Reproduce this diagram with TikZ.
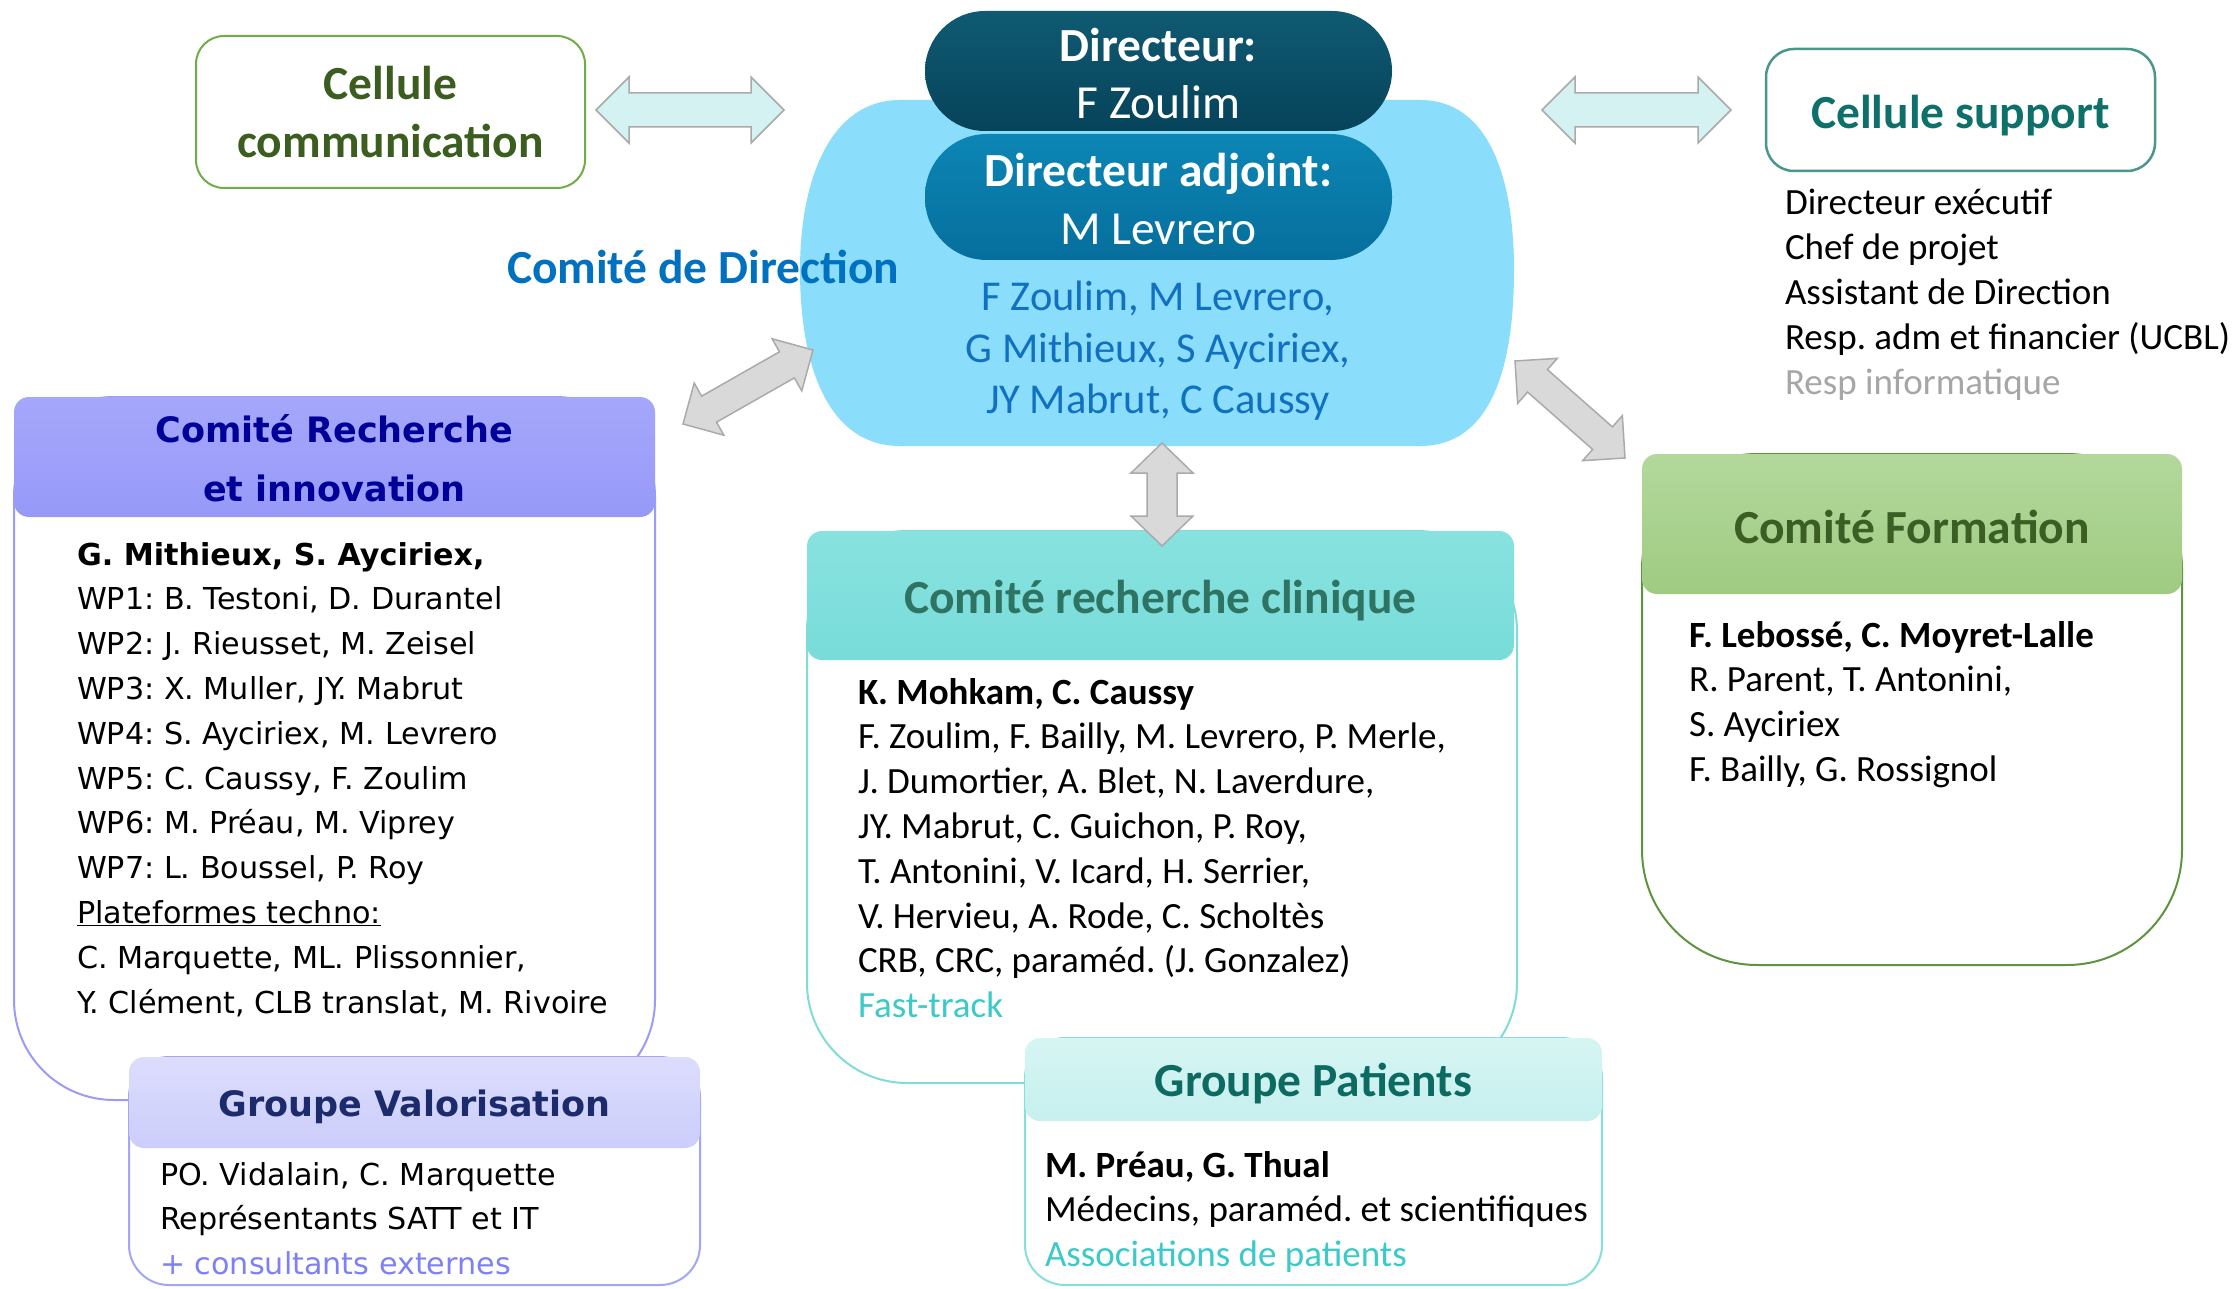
\documentclass[tikz,border=0pt]{standalone}
\usepackage{fontspec}
\setmainfont{Carlito}
\newfontfamily\verd{DejaVu Sans}
\usetikzlibrary{calc}
\definecolor{commgreen}{HTML}{70AD47}
\definecolor{commtext}{HTML}{3B5E20}
\definecolor{supteal}{HTML}{4A968D}
\definecolor{suptext}{HTML}{0E706A}
\definecolor{respgray}{HTML}{A6A6A6}
\definecolor{cylblue}{HTML}{8ADEFB}
\definecolor{dirtop}{HTML}{0F5A72}
\definecolor{dirbot}{HTML}{06435A}
\definecolor{adjtop}{HTML}{0C86B5}
\definecolor{adjbot}{HTML}{066E9C}
\definecolor{cyltext}{HTML}{1170C0}
\definecolor{cdblue}{HTML}{0070C0}
\definecolor{rechtop}{HTML}{A5A7FB}
\definecolor{rechbot}{HTML}{9799F8}
\definecolor{rechtext}{HTML}{000099}
\definecolor{rechborder}{HTML}{9A9CF8}
\definecolor{valtop}{HTML}{DCDDFD}
\definecolor{valbot}{HTML}{CCCDFA}
\definecolor{valtext}{HTML}{1C2B6B}
\definecolor{valborder}{HTML}{A3A5F7}
\definecolor{valplus}{HTML}{7E80F5}
\definecolor{clintop}{HTML}{88E2DF}
\definecolor{clinbot}{HTML}{78DCD9}
\definecolor{clintext}{HTML}{2F7363}
\definecolor{clinborder}{HTML}{7FDCD9}
\definecolor{fasttrack}{HTML}{3CC9C9}
\definecolor{pattop}{HTML}{D6F5F3}
\definecolor{patbot}{HTML}{C6F0EE}
\definecolor{pattext}{HTML}{0D6A62}
\definecolor{patborder}{HTML}{86DFDB}
\definecolor{formtop}{HTML}{B4D89C}
\definecolor{formbot}{HTML}{9FCB82}
\definecolor{formtext}{HTML}{3A5E24}
\definecolor{formborder}{HTML}{5E9340}
\definecolor{grayfill}{HTML}{D9D9D9}
\definecolor{grayline}{HTML}{AAAAAA}
\definecolor{lightfill}{HTML}{D3F2F1}
\newcommand{\Hfont}{\fontsize{47.5}{58}\selectfont\bfseries}
\newcommand{\Bfont}{\fontsize{37}{44.8}\selectfont}
\newcommand{\VHfont}{\verd\fontsize{35}{58.5}\selectfont\bfseries}
\newcommand{\VBfont}{\verd\fontsize{30.2}{44.8}\selectfont}
\newcommand{\dblarrow}[6]{%
  \coordinate (h1) at ($(#1)!#5!(#2)$);
  \coordinate (h2) at ($(#2)!#5!(#1)$);
  \draw[#6] (#1) -- ($(h1)!#3!90:(#2)$) -- ($(h1)!#4!90:(#2)$)
    -- ($(h2)!#4!-90:(#1)$) -- ($(h2)!#3!-90:(#1)$) -- (#2)
    -- ($(h2)!#3!90:(#1)$) -- ($(h2)!#4!90:(#1)$)
    -- ($(h1)!#4!-90:(#2)$) -- ($(h1)!#3!-90:(#2)$) -- cycle;
}
\frenchspacing
\begin{document}
\begin{tikzpicture}[x=1pt,y=-1pt,
  every node/.style={inner sep=0pt,outer sep=0pt},
  bodybox/.style={fill=white,line width=2pt},
  headbox/.style={rounded corners=15pt},
  txt/.style={anchor=base west},
  lightarrow/.style={fill=lightfill,draw=grayline,line width=1.5pt,line join=miter},
  grayarrow/.style={fill=grayfill,draw=grayline,line width=1.5pt,line join=miter}]
\useasboundingbox[fill=white] (0,0) rectangle (2239,1289);

% ---- Cellule communication
\node[draw=commgreen,line width=2pt,rounded corners=28pt,minimum width=389pt,minimum height=152pt,
  align=center,font=\Hfont,text=commtext] (comm) at (390.5,112) {Cellule\\communication};

% ---- Cellule support
\node[draw=supteal,line width=2.5pt,rounded corners=28pt,minimum width=389pt,minimum height=122pt] (support) at (1960.5,110) {};
\node[font=\Hfont,text=suptext] (suptitle) at (1960.5,116) {Cellule support};
\node[txt,font=\Bfont] (suplist) at (1785,215) {\begin{tabular}[t]{@{}l@{}}Directeur exécutif\\Chef de projet\\Assistant de Direction\\Resp. adm et financier (UCBL)\\\textcolor{respgray}{Resp informatique}\end{tabular}};

% ---- Comite de direction (cylinder)
\path[fill=cylblue] (900,100) -- (1420,100) .. controls (1490,100) and (1514,180) .. (1514,270)
  .. controls (1514,370) and (1490,446) .. (1420,446) -- (900,446)
  .. controls (830,446) and (800,370) .. (800,270) .. controls (800,180) and (830,100) .. (900,100) -- cycle;
\coordinate (codir) at (1157,273);
\node[top color=dirtop,bottom color=dirbot,rounded corners=60pt,minimum width=467pt,minimum height=120pt] (dir) at (1158.5,71) {};
\node[align=center,text=white,font=\fontsize{47.5}{57}\selectfont] (dirtxt) at (1158.5,74) {\textbf{Directeur:}\\F Zoulim};
\node[top color=adjtop,bottom color=adjbot,rounded corners=62pt,minimum width=467pt,minimum height=126pt] (adj) at (1158.5,197) {};
\node[align=center,text=white,font=\fontsize{47.5}{58}\selectfont] (adjtxt) at (1158.5,199) {\textbf{Directeur adjoint:}\\M Levrero};
\node[align=center,text=cyltext,font=\fontsize{42.5}{51.4}\selectfont] (cdmembers) at (1158,351)
  {F Zoulim, M Levrero,\\G Mithieux, S Ayciriex,\\JY Mabrut, C Caussy};
\node[anchor=west,font=\Hfont,text=cdblue] (cdlabel) at (507,267) {Comité de Direction};

% ---- Comite Recherche et innovation
\node[bodybox,draw=rechborder,rounded corners=100pt,minimum width=641pt,minimum height=703pt] (rechbody) at (334.5,748.5) {};
\node[headbox,top color=rechtop,bottom color=rechbot,minimum width=641pt,minimum height=120pt] (rechhead) at (334.5,457) {};
\node[align=center,font=\VHfont,text=rechtext] (rechtitle) at (334.5,458) {Comité Recherche\\et innovation};
\node[txt,font=\VBfont] (rechtxt) at (77,565) {\begin{tabular}[t]{@{}l@{}}\textbf{G. Mithieux, S. Ayciriex,}\\
WP1: B. Testoni, D. Durantel\\
WP2: J. Rieusset, M. Zeisel\\
WP3: X. Muller, JY. Mabrut\\
WP4: S. Ayciriex, M. Levrero\\
WP5: C. Caussy, F. Zoulim\\
WP6: M. Préau, M. Viprey\\
WP7: L. Boussel, P. Roy\\
\underline{Plateformes techno:}\\
C. Marquette, ML. Plissonnier,\\
Y. Clément, CLB translat, M. Rivoire\end{tabular}};

% ---- Groupe Valorisation
\node[bodybox,draw=valborder,rounded corners=40pt,minimum width=571pt,minimum height=228pt] (valbody) at (414.5,1171) {};
\node[headbox,top color=valtop,bottom color=valbot,minimum width=571pt,minimum height=91pt] (valhead) at (414.5,1102.5) {};
\node[font=\VHfont,text=valtext] (valtitle) at (414.5,1107) {Groupe Valorisation};
\node[txt,font=\VBfont] (valtxt) at (160,1185) {\begin{tabular}[t]{@{}l@{}}PO. Vidalain, C. Marquette\\
Représentants SATT et IT\\
\textcolor{valplus}{+ consultants externes}\end{tabular}};

% ---- Comite recherche clinique
\node[bodybox,draw=clinborder,rounded corners=100pt,minimum width=710pt,minimum height=552pt] (clinbody) at (1162,807) {};
\node[headbox,top color=clintop,bottom color=clinbot,minimum width=707pt,minimum height=129pt] (clinhead) at (1160.5,595.5) {};
\node[font=\Hfont,text=clintext] (clintitle) at (1160.5,601) {Comité recherche clinique};
\node[txt,font=\Bfont] (clintxt) at (858,704) {\begin{tabular}[t]{@{}l@{}}\textbf{K. Mohkam, C. Caussy}\\
F. Zoulim, F. Bailly, M. Levrero, P. Merle,\\
J. Dumortier, A. Blet, N. Laverdure,\\
JY. Mabrut, C. Guichon, P. Roy,\\
T. Antonini, V. Icard, H. Serrier,\\
V. Hervieu, A. Rode, C. Scholtès\\
CRB, CRC, paraméd. (J. Gonzalez)\\
\textcolor{fasttrack}{Fast-track}\end{tabular}};

% ---- Groupe Patients
\node[bodybox,draw=patborder,rounded corners=40pt,minimum width=577pt,minimum height=247pt] (patbody) at (1313.5,1161.5) {};
\node[headbox,top color=pattop,bottom color=patbot,minimum width=577pt,minimum height=83pt] (pathead) at (1313.5,1079.5) {};
\node[font=\Hfont,text=pattext] (pattitle) at (1313.5,1084) {Groupe Patients};
\node[txt,font=\Bfont] (pattxt) at (1045,1177) {\begin{tabular}[t]{@{}l@{}}\textbf{M. Préau, G. Thual}\\
Médecins, paraméd. et scientifiques\\
\textcolor{fasttrack}{Associations de patients}\end{tabular}};

% ---- Comite Formation
\node[bodybox,draw=formborder,rounded corners=115pt,minimum width=540pt,minimum height=511pt] (formbody) at (1912,709.5) {};
\node[headbox,top color=formtop,bottom color=formbot,minimum width=540pt,minimum height=140pt] (formhead) at (1912,524) {};
\node[font=\Hfont,text=formtext] (formtitle) at (1912,527) {Comité Formation};
\node[txt,font=\Bfont] (formtxt) at (1689,647) {\begin{tabular}[t]{@{}l@{}}\textbf{F. Lebossé, C. Moyret-Lalle}\\
R. Parent, T. Antonini,\\
S. Ayciriex\\
F. Bailly, G. Rossignol\end{tabular}};

% ---- arrows
\coordinate (ca1) at (596,110); \coordinate (ca2) at (784,110);
\coordinate (sa1) at (1542,110); \coordinate (sa2) at (1731,110);
\coordinate (ga1) at (683,424); \coordinate (ga2) at (813,350);
\coordinate (gv1) at (1162,443); \coordinate (gv2) at (1162,546);
\coordinate (gr1) at (1515,361); \coordinate (gr2) at (1625,458);
\dblarrow{ca1}{ca2}{33pt}{17pt}{33pt}{lightarrow}
\dblarrow{sa1}{sa2}{33pt}{17pt}{33pt}{lightarrow}
\dblarrow{ga1}{ga2}{30pt}{15pt}{30pt}{grayarrow}
\dblarrow{gv1}{gv2}{31pt}{15pt}{30pt}{grayarrow}
\dblarrow{gr1}{gr2}{30pt}{15pt}{30pt}{grayarrow}
\end{tikzpicture}
\end{document}
